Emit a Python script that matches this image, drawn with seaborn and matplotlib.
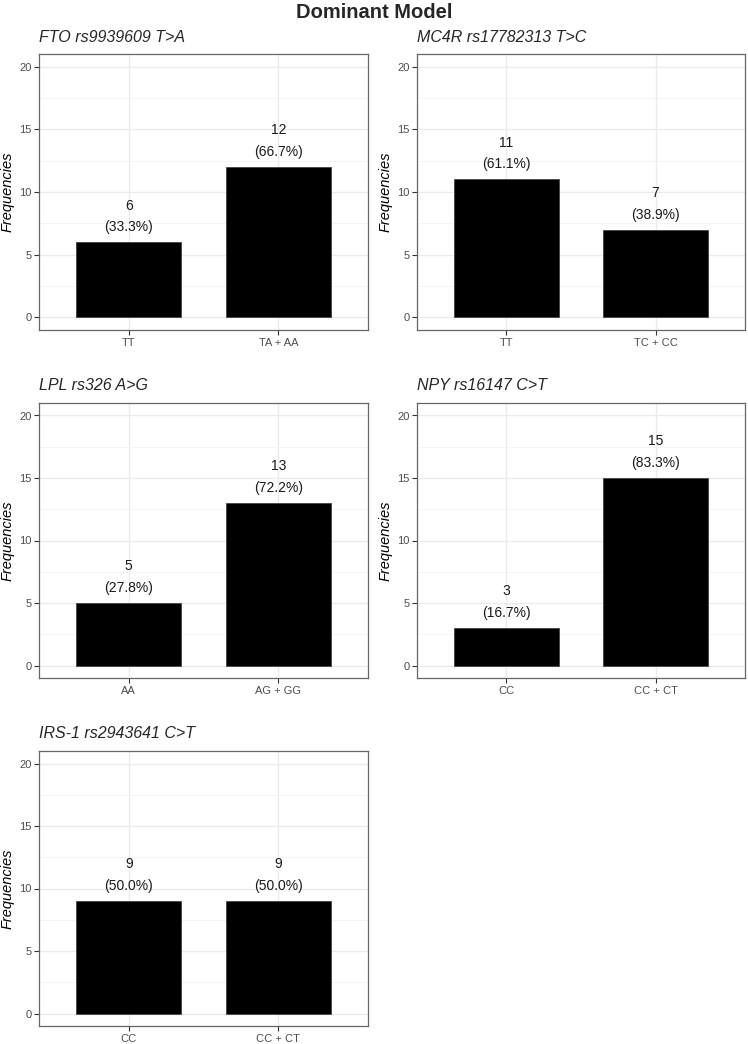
import numpy as np
import pandas as pd
import matplotlib
matplotlib.use("Agg")
import matplotlib.pyplot as plt
import seaborn as sns

# Dane: genotypy, liczebności i odsetki
titles = ["FTO rs9939609 T>A", "MC4R rs17782313 T>C", "LPL rs326 A>G",
          "NPY rs16147 C>T", "IRS-1 rs2943641 C>T"]
genotypes = [["TT", "TA + AA"], ["TT", "TC + CC"], ["AA", "AG + GG"],
             ["CC", "CC + CT"], ["CC", "CC + CT"]]
counts = [[6, 12], [11, 7], [5, 13], [3, 15], [9, 9]]
percents = [[33.3, 66.7], [61.1, 38.9], [27.8, 72.2], [16.7, 83.3], [50.0, 50.0]]

sns.set_theme(style="white")
plt.rcParams["font.family"] = ["Liberation Sans", "DejaVu Sans"]

W, H = 748, 1044
fig = plt.figure(figsize=(W / 100, H / 100), dpi=100)

# pozycje paneli w pikselach (lewo, góra, szerokość, wysokość)
cols = [(39, 329), (417, 328)]
rows = [(54, 276), (403, 275), (751, 275)]

for i, title in enumerate(titles):
    r, c = divmod(i, 2)
    x0, w = cols[c]
    y0, h = rows[r]
    ax = fig.add_axes([x0 / W, 1 - (y0 + h) / H, w / W, h / H])

    df = pd.DataFrame({"genotype": genotypes[i], "n": counts[i]})
    sns.barplot(data=df, x="genotype", y="n", color="black", saturation=1,
                width=0.7, edgecolor="#444444", linewidth=0.6, ax=ax, zorder=3)

    ax.set_xlim(-0.6, 1.6)
    ax.set_ylim(-1, 21)
    ax.set_yticks([0, 5, 10, 15, 20])
    ax.set_yticks([2.5, 7.5, 12.5, 17.5], minor=True)
    ax.grid(True, which="major", color="#EBEBEB", linewidth=1.0, zorder=0)
    ax.grid(True, which="minor", axis="y", color="#F2F2F2", linewidth=0.6, zorder=0)
    ax.set_axisbelow(True)
    ax.tick_params(axis="both", which="major", length=3.5, width=0.8,
                   color="#333333", labelcolor="#4D4D4D", labelsize=8, pad=2,
                   bottom=True, left=True)
    ax.tick_params(axis="both", which="minor", length=0)
    for sp in ax.spines.values():
        sp.set_color("#666666")
        sp.set_linewidth(0.9)

    ax.set_xlabel("")
    ax.set_ylabel("Frequencies", fontsize=10.5, style="italic", color="black", labelpad=3)
    ax.set_title(title, loc="left", fontsize=11.5, style="italic", pad=9)

    for j, (n, p) in enumerate(zip(counts[i], percents[i])):
        ax.annotate(f"({p:.1f}%)", (j, n), xytext=(0, 10.8), textcoords="offset points",
                    ha="center", va="center", fontsize=10, color="#1A1A1A")
        ax.annotate(f"{n}", (j, n), xytext=(0, 26.3), textcoords="offset points",
                    ha="center", va="center", fontsize=10, color="#1A1A1A")

fig.text(0.5, 1 - 12 / H, "Dominant Model", ha="center", va="center",
         fontsize=14.5, fontweight="bold")

fig.savefig("out.png", dpi=100, facecolor="white")
